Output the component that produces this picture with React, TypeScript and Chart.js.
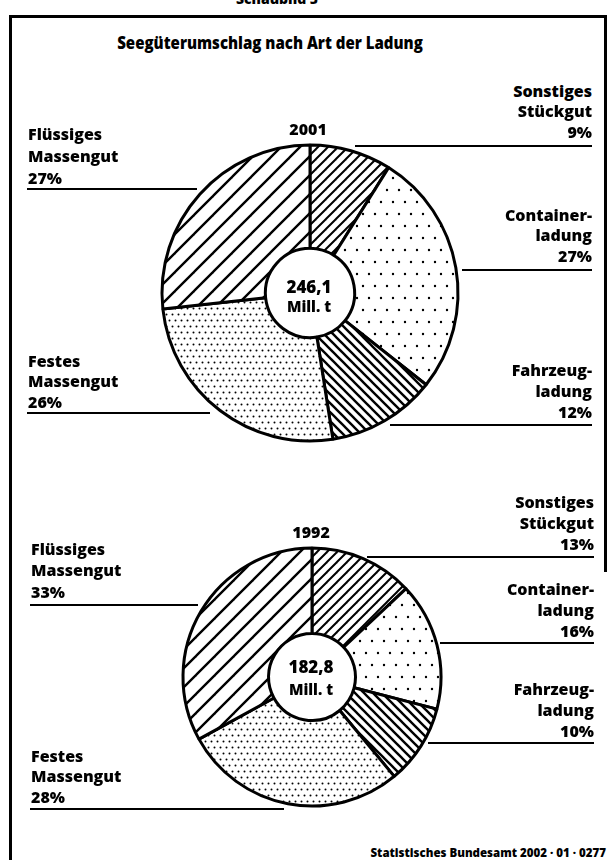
import React, { useEffect, useRef } from "react";
import { Chart, registerables } from "chart.js";

Chart.register(...registerables);

// ---------- data ----------
const categories = [
  "Sonstiges Stückgut",
  "Containerladung",
  "Fahrzeugladung",
  "Festes Massengut",
  "Flüssiges Massengut",
];
const labelLines = [
  ["Sonstiges", "Stückgut"],
  ["Container-", "ladung"],
  ["Fahrzeug-", "ladung"],
  ["Festes", "Massengut"],
  ["Flüssiges", "Massengut"],
];
const values2001 = [9, 27, 12, 26, 27];
const values1992 = [13, 16, 10, 28, 33];
const years = ["2001", "1992"];
const totals = ["246,1", "182,8"];
const unit = "Mill. t";
const title = "Seegüterumschlag nach Art der Ladung";
const source = "Statistisches Bundesamt 2002 · 01 · 0277";
const heading = "Schaubild 5";

// ---------- patterns ----------
function makeTile(w: number, h: number, draw: (c: CanvasRenderingContext2D) => void) {
  const cv = document.createElement("canvas");
  cv.width = w;
  cv.height = h;
  const c = cv.getContext("2d")!;
  c.fillStyle = "#fff";
  c.fillRect(0, 0, w, h);
  draw(c);
  return c.createPattern(cv, "repeat")!;
}
function slashLines(p: number, lw: number, back: boolean) {
  return makeTile(p, p, (c) => {
    c.strokeStyle = "#000";
    c.lineWidth = lw;
    c.lineCap = "square";
    for (const o of [-p, 0, p]) {
      c.beginPath();
      if (!back) {
        c.moveTo(o, p);
        c.lineTo(o + p, 0);
      } else {
        c.moveTo(o, 0);
        c.lineTo(o + p, p);
      }
      c.stroke();
    }
  });
}
function dots(p: number, r: number) {
  return makeTile(p, p * 2, (c) => {
    c.fillStyle = "#000";
    c.beginPath();
    c.arc(p / 4, p / 4, r, 0, Math.PI * 2);
    c.arc(p * 0.75, p + p / 4, r, 0, Math.PI * 2);
    c.fill();
  });
}
function makePatterns() {
  return [
    slashLines(10, 2, false), // Sonstiges
    dots(12, 1.2), // Container
    slashLines(9, 2.4, true), // Fahrzeug
    dots(6, 1.0), // Festes
    slashLines(19, 2.4, false), // Flüssiges
  ];
}

// ---------- components ----------
const FONT = '"Open Sans", sans-serif';

function T({
  x,
  y,
  text,
  size = 16,
  align = "left",
  sx = 1,
}: {
  x: number;
  y: number;
  text: string;
  size?: number;
  align?: string;
  sx?: number;
}) {
  const top = y - 0.888 * size;
  const W = 400;
  let left = x;
  if (align === "right") left = x - W;
  if (align === "center") left = x - W / 2;
  return (
    <div
      style={{
        position: "absolute",
        left,
        top,
        width: W,
        textAlign: align as any,
        font: `800 ${size}px ${FONT}`,
        lineHeight: `${size}px`,
        whiteSpace: "nowrap",
        color: "#000",
        transform: sx !== 1 ? `scaleX(${sx})` : undefined,
        transformOrigin: "center",
      }}
    >
      {text}
    </div>
  );
}

function HLine({ x1, x2, y, t = 2 }: { x1: number; x2: number; y: number; t?: number }) {
  return <div style={{ position: "absolute", left: x1, top: y - t / 2, width: x2 - x1, height: t, background: "#000" }} />;
}
function VLine({ x, y1, y2, t = 3 }: { x: number; y1: number; y2: number; t?: number }) {
  return <div style={{ position: "absolute", left: x - t / 2, top: y1, width: t, height: y2 - y1, background: "#000" }} />;
}

function Pie({ values, cx, cy, R, r }: { values: number[]; cx: number; cy: number; R: number; r: number }) {
  const ref = useRef<HTMLCanvasElement>(null);
  const size = 2 * R + 12;
  useEffect(() => {
    const chart = new Chart(ref.current!, {
      type: "doughnut",
      data: {
        labels: categories,
        datasets: [
          {
            data: values,
            backgroundColor: makePatterns() as any,
            borderColor: "#000",
            borderWidth: 3,
            hoverOffset: 0,
            radius: R,
            cutout: r,
          } as any,
        ],
      },
      options: {
        responsive: false,
        animation: false,
        events: [],
        layout: { padding: 0 },
        plugins: { legend: { display: false }, tooltip: { enabled: false } },
      } as any,
    });
    return () => chart.destroy();
  }, []);
  return (
    <canvas
      ref={ref}
      width={size}
      height={size}
      style={{ position: "absolute", left: cx - size / 2, top: cy - size / 2, width: size, height: size }}
    />
  );
}

type LabelPos = { x: number; base: number; gap: number; align: string; line: [number, number, number] };

function Labels({ values, pos }: { values: number[]; pos: LabelPos[] }) {
  return (
    <>
      {pos.map((p, i) => {
        const lines = [...labelLines[i], `${values[i]}%`];
        return (
          <React.Fragment key={i}>
            {lines.map((s, j) => (
              <T key={j} x={p.x} y={p.base + j * p.gap} text={s} align={p.align} size={16} />
            ))}
            <HLine x1={p.line[0]} x2={p.line[1]} y={p.line[2]} t={2.5} />
          </React.Fragment>
        );
      })}
    </>
  );
}

export default function App() {
  const pos2001: LabelPos[] = [
    { x: 592, base: 97, gap: 20.5, align: "right", line: [355, 592, 146] },
    { x: 592, base: 221, gap: 20.5, align: "right", line: [462, 592, 270] },
    { x: 592, base: 376, gap: 21, align: "right", line: [390, 592, 425] },
    { x: 28, base: 367, gap: 20.5, align: "left", line: [27, 210, 413] },
    { x: 28, base: 140, gap: 22, align: "left", line: [27, 197, 189] },
  ];
  const pos1992: LabelPos[] = [
    { x: 594, base: 508, gap: 21, align: "right", line: [367, 594, 557] },
    { x: 594, base: 595, gap: 21, align: "right", line: [440, 594, 643] },
    { x: 594, base: 695, gap: 21, align: "right", line: [428, 594, 743] },
    { x: 31, base: 762, gap: 20.5, align: "left", line: [30, 284, 809] },
    { x: 31, base: 555, gap: 21.5, align: "left", line: [30, 198, 605] },
  ];
  return (
    <div
      style={{
        position: "absolute",
        left: 0,
        top: 0,
        width: 609,
        height: 860,
        overflow: "hidden",
        background: "#fff",
      }}
    >
      <T x={277} y={4} text={heading} size={14} align="center" />
      <HLine x1={9} x2={607} y={16} t={3} />
      <VLine x={10} y1={15} y2={860} t={3} />
      <VLine x={605} y1={15} y2={572} t={3} />
      <T x={270} y={50} text={title} size={17.5} align="center" sx={0.86} />

      <Pie values={values2001} cx={310} cy={293} R={148} r={46} />
      <T x={308} y={135} text={years[0]} size={16} align="center" />
      <T x={309} y={293} text={totals[0]} size={17} align="center" />
      <T x={309} y={312} text={unit} size={15} align="center" />
      <Labels values={values2001} pos={pos2001} />

      <Pie values={values1992} cx={312} cy={677} R={129} r={45} />
      <T x={311} y={538} text={years[1]} size={16} align="center" />
      <T x={311} y={673} text={totals[1]} size={17} align="center" />
      <T x={311} y={695} text={unit} size={15} align="center" />
      <Labels values={values1992} pos={pos1992} />

      <T x={606} y={857} text={source} size={11.5} align="right" />
    </div>
  );
}
